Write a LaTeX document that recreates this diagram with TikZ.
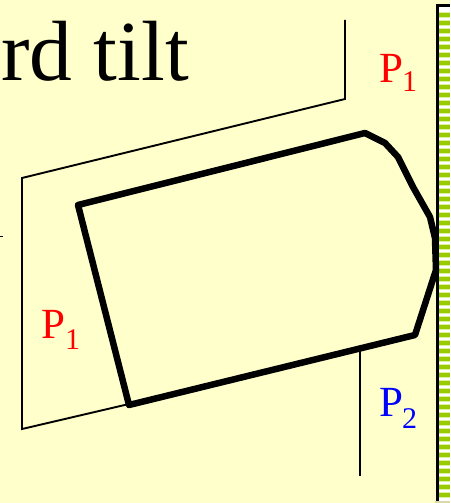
\documentclass[tikz,border=0pt]{standalone}
\usepackage{fontspec}
\setmainfont{Liberation Serif}
\definecolor{bgc}{HTML}{FFFFCC}
\definecolor{wallg}{HTML}{99CC00}
\definecolor{wallp}{HTML}{DDEEA0}
\tikzset{
  thinl/.style={draw=black,line width=1.9pt,line join=miter},
  thickl/.style={draw=black,line width=6.5pt,line join=round},
  lab/.style={anchor=base west,inner sep=0pt,font=\fontsize{43}{43}\selectfont},
  sublab/.style={anchor=base west,inner sep=0pt,font=\fontsize{30}{30}\selectfont}
}
\begin{document}
\begin{tikzpicture}[x=1pt,y=-1pt]
\useasboundingbox (0,0) rectangle (450,503);
\fill[bgc] (0,0) rectangle (450,503);
% wall
\fill[white] (437,5) rectangle (450,502);
\foreach \k in {0,...,60}{
  \fill[wallp] (437,{15+\k*8-2.8}) rectangle (450,{15+\k*8+2.8});
  \fill[wallg] (437,{15+\k*8-1.9}) rectangle (450,{15+\k*8+1.9});
}
\fill[bgc!85!black] (435,501) rectangle (450,503);
\draw[black,line width=2.8pt] (450,5.5) -- (437.3,5.5) -- (437.3,501);
% title
\node[anchor=base west,inner sep=0pt,font=\fontsize{85.5}{85.5}\selectfont] (title) at (1,81) {rd tilt};
% mark
\draw[black,line width=1pt] (0,236) -- (3,236);
% thin lines
\draw[thinl] (345,20) -- (345,99) -- (22,178) -- (22,429) -- (129,404);
\draw[thinl] (360,350) -- (360,476);
% body
\draw[thickl] (78,205) -- (365,133) -- (385,143) -- (398,157) -- (413,187) -- (430,217) -- (435,238) -- (436,270) -- (415,335) -- (129,405) -- cycle;
% labels
\node[lab,red] (pa) at (379.5,82) {P};
\node[sublab,red] (pas) at (402,92) {1};
\node[lab,red] (pb) at (41,338) {P};
\node[sublab,red] (pbs) at (65,349) {1};
\node[lab,blue] (pc) at (379.5,416.5) {P};
\node[sublab,blue] (pcs) at (402,428) {2};
\end{tikzpicture}
\end{document}
